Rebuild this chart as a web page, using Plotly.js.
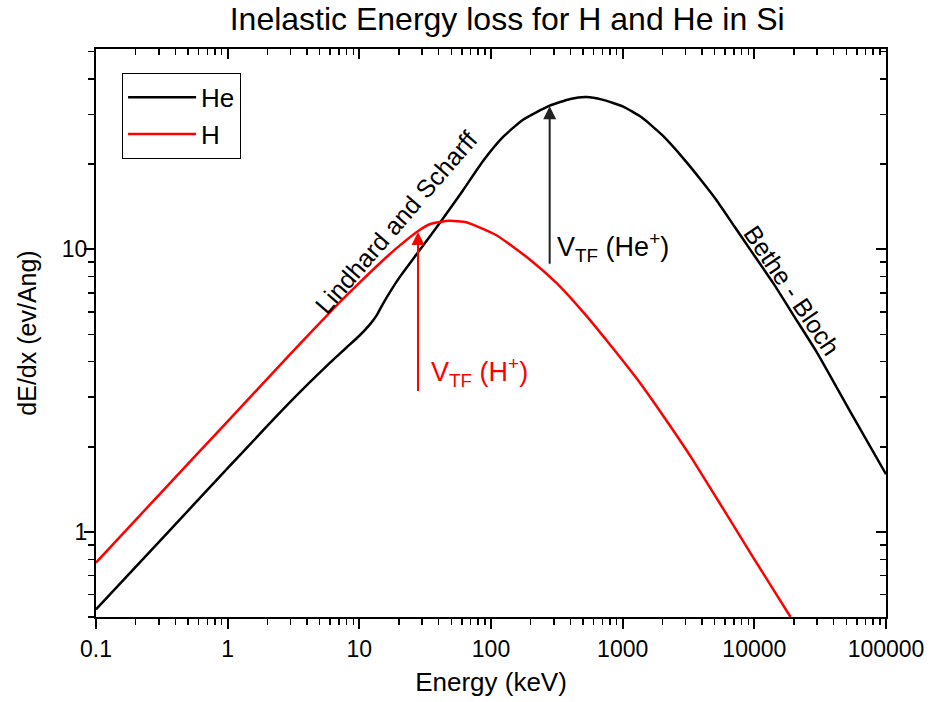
<!DOCTYPE html>
<html>
<head>
<meta charset="utf-8">
<script src="https://cdn.plot.ly/plotly-3.0.1.min.js"></script>
<style>html,body{margin:0;padding:0;background:#fff;}#chart{width:934px;height:702px;}</style>
</head>
<body>
<div id="chart"></div>
<script>
// Energy (keV) and stopping (eV/Angstrom)
const energyH = [0.1, 0.3, 1, 3, 7, 10, 15, 20, 28, 35, 48, 65, 110, 197, 314, 500, 800, 1300, 2000, 3428, 10000, 18830];
const dedxH   = [0.778, 1.35, 2.46, 4.26, 6.45, 7.6, 9.1, 10.25, 11.6, 12.3, 12.6, 12.45, 11.2, 9.2, 7.6, 6.0, 4.6, 3.45, 2.6, 1.79, 0.80, 0.5];

const energyHe = [0.1, 0.3, 1, 2, 3, 4.14, 6, 8, 10, 12, 13.5, 15, 20, 28, 42, 61, 87, 123, 175, 279, 400, 531, 700, 1000, 1400, 2000, 2877, 4000, 5164, 7000, 9250, 14000, 20000, 30000, 56400, 100000];
const dedxHe   = [0.532, 0.92, 1.68, 2.37, 2.89, 3.36, 3.97, 4.49, 4.94, 5.41, 5.82, 6.37, 7.9, 9.77, 12.6, 16.1, 20.5, 24.9, 28.7, 32.2, 34.0, 34.5, 33.8, 32.0, 29.2, 25.3, 21.0, 17.4, 14.9, 12.1, 10.0, 7.55, 5.8, 4.3, 2.55, 1.6];

const seriesNames = ['He', 'H'];
const xTickVals = [0.1, 1, 10, 100, 1000, 10000, 100000];
const xTickText = ['0.1', '1', '10', '100', '1000', '10000', '100000'];
const yTickVals = [1, 10];
const yTickText = ['1', '10'];

// Threshold-velocity arrows (energy, tail value, tip value)
const arrowHe = {E: 279, from: 8.78, to: 32.0};
const arrowH  = {E: 27.9, from: 3.11, to: 11.5};

function minorVals(lo, hi) {
  const v = [];
  for (let d = lo; d < hi; d++) for (let m = 2; m <= 9; m++) v.push(m * Math.pow(10, d));
  return v;
}

const FONT = 'Liberation Sans, Arial, sans-serif';
const xRange = [-1, 5];
const yRange = [Math.log10(0.5), 1.708];

const traces = [
  {x: energyHe, y: dedxHe, name: seriesNames[0], mode: 'lines', line: {color: '#000000', width: 2.5, shape: 'spline', smoothing: 0.5}},
  {x: energyH, y: dedxH, name: seriesNames[1], mode: 'lines', line: {color: '#ff0000', width: 2.5, shape: 'spline', smoothing: 0.5}},
  {x: energyHe, y: dedxHe, xaxis: 'x2', yaxis: 'y2', mode: 'lines', line: {width: 0, color: 'rgba(0,0,0,0)'}, showlegend: false, hoverinfo: 'skip'}
];

const axisCommon = {type: 'log', showgrid: false, zeroline: false, linecolor: '#000', linewidth: 2, tickcolor: '#000', tickwidth: 2, ticklen: 10};

const layout = {
  width: 934, height: 702,
  margin: {l: 96, r: 48, t: 49, b: 85},
  paper_bgcolor: '#fff', plot_bgcolor: '#fff',
  font: {family: FONT, color: '#000', size: 23},
  title: {text: 'Inelastic Energy loss for H and He in Si', font: {family: FONT, size: 32, color: '#000'}, x: 0.543, xanchor: 'center', y: 0.973, yanchor: 'middle'},
  showlegend: true,
  legend: {x: 0.033, y: 0.958, xanchor: 'left', yanchor: 'top', bordercolor: '#000', borderwidth: 1, bgcolor: '#fff', font: {family: FONT, size: 26, color: '#000'}, itemwidth: 68, tracegroupgap: 0},
  xaxis: Object.assign({}, axisCommon, {
    range: xRange, showline: true, mirror: true, ticks: 'outside',
    tickmode: 'array', tickvals: xTickVals, ticktext: xTickText,
    tickfont: {family: FONT, size: 23},
    minor: {tickmode: 'array', tickvals: minorVals(-1, 5), ticks: 'outside', ticklen: 6, tickwidth: 1.5, tickcolor: '#000', showgrid: false},
    title: {text: 'Energy (keV)', font: {family: FONT, size: 26}, standoff: 12}
  }),
  yaxis: Object.assign({}, axisCommon, {
    range: yRange, showline: true, mirror: true, ticks: 'outside',
    tickmode: 'array', tickvals: yTickVals, ticktext: yTickText,
    tickfont: {family: FONT, size: 23}, ticklabelstandoff: -8,
    minor: {tickmode: 'array', tickvals: minorVals(-1, 2), ticks: 'outside', ticklen: 6, tickwidth: 1.5, tickcolor: '#000', showgrid: false},
    title: {text: 'dE/dx (ev/Ang)', font: {family: FONT, size: 25}, standoff: 18}
  }),
  xaxis2: Object.assign({}, axisCommon, {
    overlaying: 'x', side: 'top', range: xRange, showline: false, ticks: 'inside', showticklabels: false,
    tickmode: 'array', tickvals: xTickVals,
    minor: {tickmode: 'array', tickvals: minorVals(-1, 5), ticks: 'inside', ticklen: 6, tickwidth: 1.5, tickcolor: '#000', showgrid: false}
  }),
  yaxis2: Object.assign({}, axisCommon, {
    overlaying: 'y', side: 'right', range: yRange, showline: false, ticks: 'inside', showticklabels: false,
    tickmode: 'array', tickvals: yTickVals,
    minor: {tickmode: 'array', tickvals: minorVals(-1, 2), ticks: 'inside', ticklen: 6, tickwidth: 1.5, tickcolor: '#000', showgrid: false}
  }),
  annotations: [
    {xref: 'x', yref: 'y', axref: 'x', ayref: 'y', x: Math.log10(arrowHe.E), y: Math.log10(arrowHe.to), ax: Math.log10(arrowHe.E), ay: Math.log10(arrowHe.from),
     showarrow: true, arrowhead: 2, arrowsize: 1.3, arrowwidth: 2, arrowcolor: '#222', text: ''},
    {xref: 'x', yref: 'y', axref: 'x', ayref: 'y', x: Math.log10(arrowH.E), y: Math.log10(arrowH.to), ax: Math.log10(arrowH.E), ay: Math.log10(arrowH.from),
     showarrow: true, arrowhead: 2, arrowsize: 1.3, arrowwidth: 2, arrowcolor: '#ff0000', text: ''},
    {xref: 'x', yref: 'y', x: 2.484, y: 1.007, xanchor: 'left', yanchor: 'middle', showarrow: false,
     text: 'V<sub>TF</sub> (He<sup>+</sup>)', font: {family: FONT, size: 27, color: '#000'}},
    {xref: 'x', yref: 'y', x: 1.53, y: 0.564, xanchor: 'left', yanchor: 'middle', showarrow: false,
     text: 'V<sub>TF</sub> (H<sup>+</sup>)', font: {family: FONT, size: 27, color: '#ff0000'}},
    {xref: 'x', yref: 'y', x: 1.28, y: 1.096, showarrow: false, textangle: -49,
     text: 'Lindhard and Scharff', font: {family: FONT, size: 25, color: '#000'}},
    {xref: 'x', yref: 'y', x: 4.284, y: 0.855, showarrow: false, textangle: 56,
     text: 'Bethe - Bloch', font: {family: FONT, size: 25, color: '#000'}}
  ]
};

Plotly.newPlot('chart', traces, layout, {staticPlot: true, displayModeBar: false});
</script>
</body>
</html>
